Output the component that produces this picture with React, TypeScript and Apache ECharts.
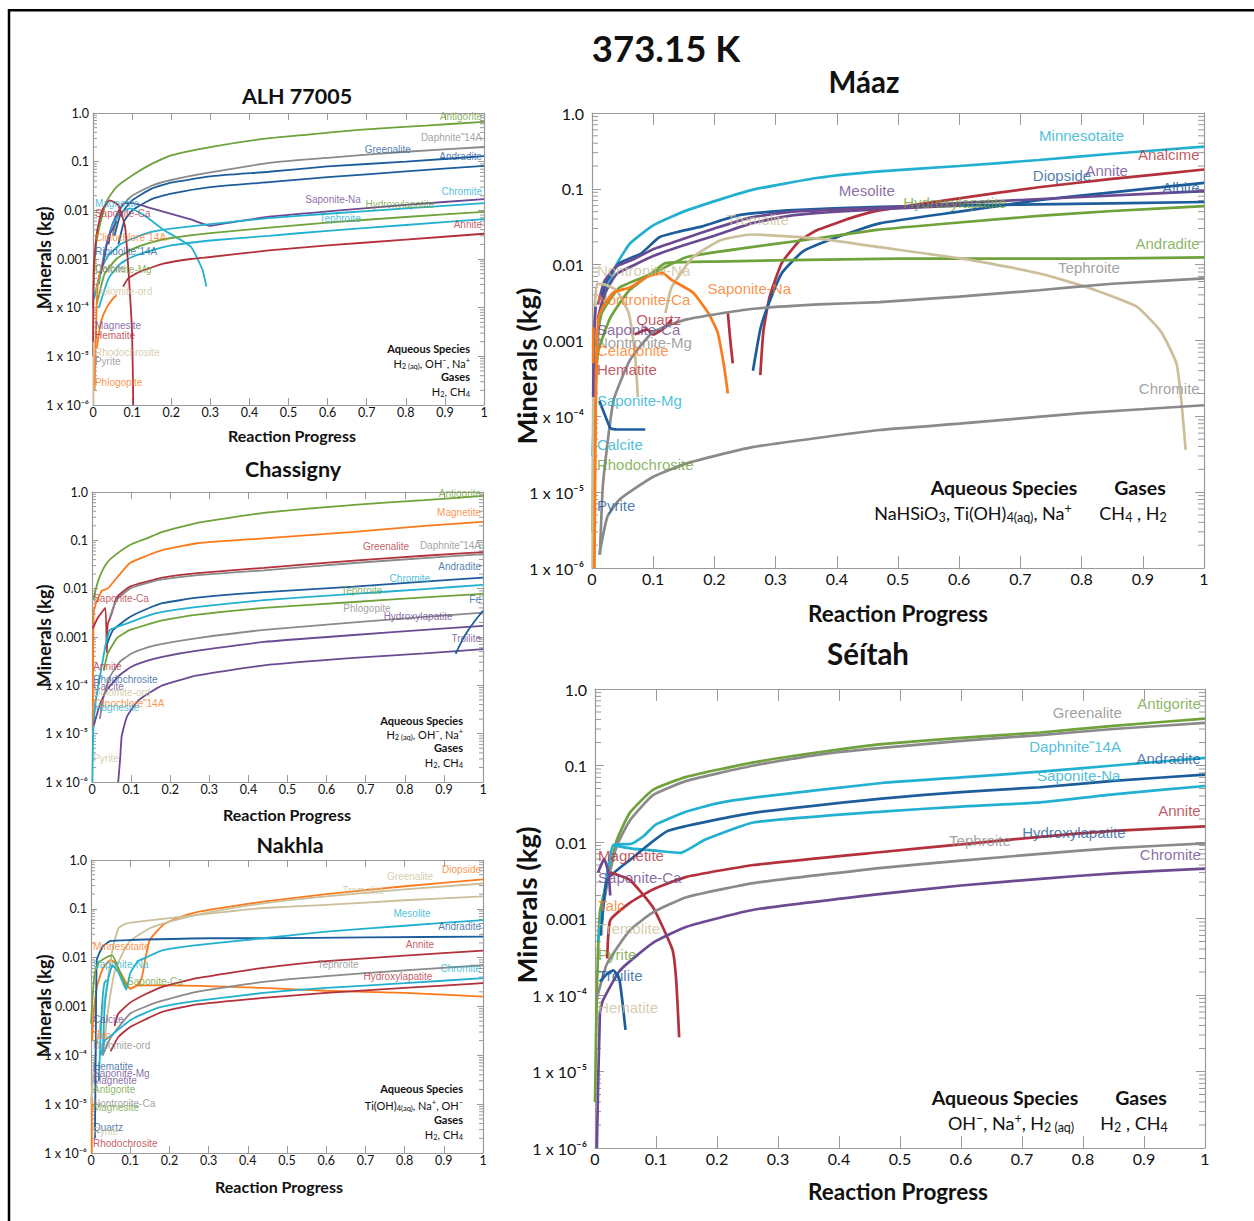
import React, { useEffect, useRef } from "react";
import * as echarts from "echarts";

type Pt = [number, number];
type Curve = [string, Pt[]];
type Lbl = [string, number, number];

// ---------- tick labels ----------
const yTickLabels = ["1 x 10⁻⁶", "1 x 10⁻⁵", "1 x 10⁻⁴", "0.001", "0.01", "0.1", "1.0"];
const xTickLabels = ["0", "0.1", "0.2", "0.3", "0.4", "0.5", "0.6", "0.7", "0.8", "0.9", "1"];

// ---------- ALH 77005 ----------
const alhCurves: Curve[] = [
  ["Antigorite", [[0, 1e-4], [0.003, 6e-4], [0.008, 0.002], [0.02, 0.006], [0.036, 0.016], [0.06, 0.03], [0.1, 0.052], [0.15, 0.09], [0.2, 0.135], [0.3, 0.2], [0.43, 0.29], [0.55, 0.36], [0.68, 0.45], [0.85, 0.55], [1, 0.66]]],
  ["Daphnite", [[0.05, 0.003], [0.065, 0.009], [0.08, 0.014], [0.1, 0.02], [0.15, 0.032], [0.2, 0.042], [0.3, 0.06], [0.45, 0.094], [0.6, 0.12], [0.8, 0.16], [1, 0.2]]],
  ["Greenalite", [[0.055, 0.003], [0.07, 0.008], [0.1, 0.016], [0.15, 0.028], [0.2, 0.037], [0.3, 0.05], [0.45, 0.062], [0.6, 0.08], [0.8, 0.1], [1, 0.13]]],
  ["Andradite", [[0.065, 0.002], [0.08, 0.006], [0.1, 0.01], [0.15, 0.017], [0.2, 0.022], [0.3, 0.03], [0.45, 0.038], [0.6, 0.048], [0.8, 0.063], [1, 0.082]]],
  ["Saponite-Na", [[0.04, 0.002], [0.045, 0.004], [0.06, 0.008], [0.08, 0.014], [0.1, 0.014], [0.15, 0.011], [0.2, 0.0085], [0.25, 0.0065], [0.3, 0.0048], [0.35, 0.0056], [0.45, 0.0074], [0.6, 0.0095], [0.8, 0.013], [1, 0.017]]],
  ["Magnetite", [[0.015, 3e-4], [0.03, 0.0015], [0.05, 0.005], [0.07, 0.009], [0.095, 0.011], [0.13, 0.008], [0.18, 0.004], [0.25, 0.0018], [0.28, 6e-4], [0.29, 2.7e-4]]],
  ["Chromite", [[0.003, 1.5e-4], [0.02, 6e-4], [0.04, 0.0012], [0.07, 0.002], [0.11, 0.0028], [0.15, 0.0036], [0.2, 0.0042], [0.3, 0.0052], [0.45, 0.0069], [0.6, 0.0085], [0.8, 0.011], [1, 0.014]]],
  ["Hydroxylapatite", [[0.01, 1.2e-4], [0.03, 5e-4], [0.06, 0.001], [0.1, 0.0016], [0.15, 0.0022], [0.2, 0.0027], [0.3, 0.0034], [0.45, 0.0044], [0.6, 0.0056], [0.8, 0.0073], [1, 0.0093]]],
  ["Tephroite", [[0.015, 1e-4], [0.04, 4e-4], [0.07, 8e-4], [0.1, 0.0011], [0.15, 0.0015], [0.2, 0.0019], [0.3, 0.0024], [0.45, 0.003], [0.6, 0.0038], [0.8, 0.005], [1, 0.0066]]],
  ["Annite", [[0.077, 2.7e-4], [0.09, 4e-4], [0.12, 5.5e-4], [0.18, 8e-4], [0.25, 0.001], [0.3, 0.0011], [0.45, 0.0015], [0.6, 0.0019], [0.8, 0.0025], [1, 0.0033]]],
  ["Saponite-Ca", [[0, 1e-5], [0.002, 7e-4], [0.01, 0.0035], [0.023, 0.01], [0.043, 0.016], [0.064, 0.013], [0.082, 0.0046], [0.09, 7e-4], [0.1, 3e-5], [0.103, 1e-6]]],
  ["Clinochlore", [[0.004, 2e-6], [0.008, 5e-5], [0.012, 3e-4], [0.02, 6e-4], [0.03, 0.001]]],
  ["Phlogopite", [[0.01, 1.5e-5], [0.02, 5e-5], [0.035, 1e-4], [0.05, 1.5e-4], [0.06, 1.8e-4]]],
  ["Rhodochrosite", [[0.001, 1e-6], [0.0012, 2e-5]]],
  ["Magnesite", [[0.02, 5e-4], [0.03, 0.0012], [0.04, 0.003], [0.05, 0.004], [0.06, 0.006]]],
];
const alhCurveColors = ["green", "grey", "blue", "blue", "purple", "cyan", "cyan", "green", "cyan", "red", "red", "orange", "orange", "tan", "purple"];
const alhLabels: Lbl[] = [
  ["Antigorite", 0.995, 0.83], ["Daphnite˜14A", 0.995, 0.32], ["Greenalite", 0.754, 0.174], ["Andradite", 0.995, 0.125],
  ["Chromite", 0.995, 0.024], ["Saponite-Na", 0.614, 0.017], ["Hydroxylapatite", 0.785, 0.0129], ["Tephroite", 0.632, 0.0069],
  ["Annite", 0.995, 0.005], ["Magnetite", 0.005, 0.0135], ["Saponite-Ca", 0.005, 0.0085], ["Clinochlore˜14A", 0.005, 0.0028],
  ["Ripidolite˜14A", 0.005, 0.0014], ["Dolomite-Mg", 0.005, 6e-4], ["Calcite", 0.005, 6.4e-4], ["Dolomite-ord", 0.005, 2.2e-4],
  ["Magnesite", 0.005, 4.4e-5], ["Hematite", 0.005, 2.7e-5], ["Rhodochrosite", 0.005, 1.2e-5], ["Pyrite", 0.005, 7.8e-6],
  ["Phlogopite", 0.005, 2.9e-6],
];
const alhLabelColors = ["green", "grey", "blue", "blue", "cyan", "purple", "green", "cyan", "red", "cyan", "red", "orange", "blue", "green", "grey", "tan", "purple", "red", "tan", "grey", "orange"];

// ---------- Chassigny ----------
const chaCurves: Curve[] = [
  ["Antigorite", [[0.004, 0.006], [0.01, 0.01], [0.02, 0.018], [0.038, 0.034], [0.06, 0.05], [0.097, 0.08], [0.14, 0.11], [0.18, 0.15], [0.27, 0.23], [0.44, 0.37], [0.67, 0.54], [0.85, 0.68], [1, 0.83]]],
  ["Magnetite", [[0.002, 1.2e-5], [0.004, 0.003], [0.01, 0.005], [0.025, 0.009], [0.04, 0.01], [0.064, 0.017], [0.097, 0.034], [0.14, 0.048], [0.18, 0.063], [0.27, 0.087], [0.44, 0.11], [0.67, 0.15], [0.85, 0.2], [1, 0.24]]],
  ["Greenalite", [[0.002, 0.0015], [0.015, 0.0025], [0.034, 0.004], [0.038, 4.7e-4], [0.04, 0.0018], [0.05, 0.003], [0.064, 0.0067], [0.097, 0.011], [0.14, 0.014], [0.18, 0.017], [0.27, 0.021], [0.44, 0.027], [0.67, 0.038], [0.85, 0.048], [1, 0.057]]],
  ["Daphnite", [[0.045, 0.0025], [0.064, 0.006], [0.097, 0.01], [0.14, 0.013], [0.18, 0.0155], [0.27, 0.019], [0.44, 0.024], [0.67, 0.034], [0.85, 0.043], [1, 0.052]]],
  ["Andradite", [[0.038, 7e-4], [0.054, 0.0014], [0.097, 0.0026], [0.14, 0.0038], [0.18, 0.005], [0.27, 0.0065], [0.44, 0.0085], [0.67, 0.011], [0.85, 0.014], [1, 0.017]]],
  ["Chromite", [[0.001, 1e-6], [0.003, 1e-5], [0.01, 5e-5], [0.025, 2.5e-4], [0.035, 7e-4], [0.046, 0.0014], [0.097, 0.002], [0.14, 0.0027], [0.18, 0.0033], [0.27, 0.0042], [0.44, 0.0058], [0.67, 0.0078], [0.85, 0.0098], [1, 0.012]]],
  ["Tephroite", [[0.03, 2e-4], [0.04, 4.5e-4], [0.064, 9.5e-4], [0.097, 0.0014], [0.14, 0.0018], [0.18, 0.0022], [0.27, 0.0029], [0.44, 0.004], [0.67, 0.0053], [0.85, 0.0066], [1, 0.0078]]],
  ["Phlogopite", [[0.02, 2e-5], [0.03, 6e-5], [0.046, 1.5e-4], [0.07, 3e-4], [0.1, 4.5e-4], [0.14, 6e-4], [0.18, 7.2e-4], [0.27, 9.5e-4], [0.44, 0.0014], [0.67, 0.002], [0.85, 0.0026], [1, 0.0032]]],
  ["Hydroxylapatite", [[0.005, 1.5e-5], [0.02, 4e-5], [0.038, 8e-5], [0.07, 1.6e-4], [0.1, 2.4e-4], [0.14, 3.2e-4], [0.18, 3.9e-4], [0.27, 5.2e-4], [0.44, 7.9e-4], [0.67, 0.0011], [0.85, 0.0014], [1, 0.0017]]],
  ["Troilite", [[0.067, 1e-6], [0.072, 3e-6], [0.076, 9e-6], [0.09, 2.3e-5], [0.12, 5e-5], [0.18, 1e-4], [0.27, 1.6e-4], [0.44, 2.6e-4], [0.67, 3.7e-4], [0.85, 4.6e-4], [1, 5.6e-4]]],
  ["Fe", [[0.93, 4.5e-4], [0.945, 8e-4], [0.96, 0.0013], [0.98, 0.0022], [1, 0.0035]]],
];
const chaCurveColors = ["green", "orange", "red", "grey", "blue", "cyan", "green", "grey", "purple", "purple", "blue"];
const chaLabels: Lbl[] = [
  ["Antigorite", 0.995, 0.91], ["Magnetite", 0.995, 0.37], ["Greenalite", 0.752, 0.076], ["Daphnite˜14A", 0.995, 0.08],
  ["Andradite", 0.995, 0.029], ["Chromite", 0.813, 0.0166], ["Tephroite", 0.69, 0.0093], ["Fe", 0.995, 0.006],
  ["Phlogopite", 0.703, 0.0038], ["Hydroxylapatite", 0.834, 0.0027], ["Troilite", 0.995, 9.1e-4],
  ["Saponite-Ca", 0.003, 0.0064], ["Annite", 0.003, 2.4e-4], ["Rhodochrosite", 0.003, 1.35e-4], ["Calcite", 0.003, 9.6e-5],
  ["Dolomite-ord", 0.003, 7.2e-5], ["Clinochlore˜14A", 0.003, 4.3e-5], ["Magnesite", 0.003, 3.5e-5], ["Pyrite", 0.003, 3.1e-6],
];
const chaLabelColors = ["green", "orange", "red", "grey", "blue", "cyan", "green", "blue", "grey", "purple", "purple", "red", "red", "blue", "purple", "tan", "orange", "cyan", "tan"];

// ---------- Nakhla ----------
const nakCurves: Curve[] = [
  ["Diopside", [[0.1, 0.0023], [0.12, 0.0028], [0.13, 0.004], [0.138, 0.009], [0.15, 0.023], [0.184, 0.047], [0.22, 0.065], [0.27, 0.086], [0.35, 0.11], [0.44, 0.14], [0.6, 0.2], [0.8, 0.29], [1, 0.4]]],
  ["Minnesotaite", [[0.003, 2e-4], [0.006, 6e-4], [0.015, 0.0025], [0.03, 0.006], [0.05, 0.009], [0.06, 0.008], [0.075, 0.005], [0.09, 0.003], [0.1, 0.0023], [0.12, 0.0027], [0.2, 0.0027], [0.44, 0.0024], [0.6, 0.0021], [0.8, 0.0019], [1, 0.0016]]],
  ["Talc", [[0.002, 1e-6], [0.002, 1.5e-5]]],
  ["Greenalite", [[0.03, 1e-4], [0.045, 0.001], [0.06, 0.005], [0.08, 0.012], [0.1, 0.022], [0.15, 0.04], [0.2, 0.055], [0.3, 0.085], [0.44, 0.13], [0.6, 0.18], [0.8, 0.25], [1, 0.33]]],
  ["Tremolite", [[0, 1e-5], [0.01, 1e-4], [0.02, 3e-4], [0.04, 0.0025], [0.055, 0.015], [0.07, 0.04], [0.09, 0.05], [0.15, 0.058], [0.25, 0.072], [0.35, 0.088], [0.44, 0.104], [0.6, 0.12], [0.8, 0.15], [1, 0.18]]],
  ["Andradite", [[0.01, 2e-6], [0.012, 1e-4], [0.015, 0.009], [0.03, 0.017], [0.05, 0.022], [0.1, 0.023], [0.3, 0.025], [0.44, 0.025], [0.7, 0.026], [1, 0.027]]],
  ["Mesolite", [[0.03, 1e-4], [0.035, 0.001], [0.045, 0.004], [0.055, 0.007], [0.07, 0.005], [0.09, 0.0022], [0.1, 0.0048], [0.12, 0.0085], [0.14, 0.01], [0.18, 0.014], [0.27, 0.018], [0.44, 0.025], [0.6, 0.034], [0.8, 0.045], [1, 0.059]]],
  ["Annite", [[0.06, 4e-4], [0.069, 7e-4], [0.1, 0.0012], [0.14, 0.0018], [0.18, 0.0025], [0.27, 0.0038], [0.44, 0.0062], [0.6, 0.0085], [0.8, 0.011], [1, 0.014]]],
  ["Tephroite", [[0.03, 1e-4], [0.05, 2.3e-4], [0.1, 7.2e-4], [0.14, 0.001], [0.18, 0.0013], [0.27, 0.002], [0.44, 0.0032], [0.6, 0.0042], [0.8, 0.0055], [1, 0.007]]],
  ["Chromite", [[0.025, 1e-4], [0.035, 2e-4], [0.05, 2.5e-4], [0.1, 5.2e-4], [0.14, 7.5e-4], [0.18, 9.8e-4], [0.27, 0.0013], [0.44, 0.0019], [0.6, 0.0024], [0.8, 0.003], [1, 0.0038]]],
  ["Saponite-Na", [[0.02, 3e-5], [0.024, 2e-4], [0.028, 0.001], [0.034, 0.003], [0.04, 0.0035]]],
  ["Hydroxylapatite", [[0.05, 1.2e-4], [0.07, 2.4e-4], [0.1, 3.8e-4], [0.14, 5.5e-4], [0.18, 7.7e-4], [0.27, 0.0011], [0.44, 0.0015], [0.6, 0.0019], [0.8, 0.0024], [1, 0.003]]],
  ["Saponite-Ca", [[0, 4.5e-4], [0.005, 0.002], [0.01, 0.005], [0.02, 0.008], [0.05, 0.011], [0.055, 0.011], [0.07, 0.006], [0.085, 0.0032], [0.09, 0.0025]]],
];
const nakCurveColors = ["orange", "orange", "orange", "tan", "tan", "blue", "cyan", "red", "grey", "cyan", "cyan", "red", "green"];
const nakLabels: Lbl[] = [
  ["Diopside", 0.995, 0.65], ["Greenalite", 0.814, 0.47], ["Tremolite", 0.694, 0.24], ["Mesolite", 0.819, 0.082],
  ["Andradite", 0.995, 0.044], ["Annite", 0.839, 0.019], ["Tephroite", 0.63, 0.0074], ["Chromite", 0.995, 0.0059],
  ["Hydroxylapatite", 0.783, 0.0042], ["Minnesotaite", 0.005, 0.0173], ["Saponite-Na", 0.005, 0.0071], ["Saponite-Ca", 0.163, 0.0033],
  ["Calcite", 0.005, 5.5e-4], ["Talc", 0.005, 2.5e-4], ["Dolomite-ord", 0.005, 1.6e-4], ["Hematite", 0.005, 6e-5],
  ["Saponite-Mg", 0.005, 4.3e-5], ["Magnetite", 0.005, 3e-5], ["Antigorite", 0.005, 2e-5], ["Nontronite-Ca", 0.005, 1.05e-5],
  ["Magnesite", 0.005, 8.5e-6], ["Quartz", 0.005, 3.4e-6], ["Pyrite", 0.005, 2.8e-6], ["Rhodochrosite", 0.005, 1.6e-6],
];
const nakLabelColors = ["orange", "tan", "tan", "cyan", "blue", "red", "grey", "cyan", "red", "orange", "cyan", "green", "purple", "orange", "grey", "blue", "purple", "purple", "green", "grey", "green", "blue", "tan", "red"];

// ---------- Máaz ----------
const maazCurves: Curve[] = [
  ["Minnesotaite", [[0.001, 3e-5], [0.005, 3e-4], [0.01, 0.0012], [0.016, 0.0028], [0.025, 0.005], [0.04, 0.01], [0.062, 0.019], [0.1, 0.033], [0.155, 0.052], [0.26, 0.096], [0.37, 0.14], [0.47, 0.17], [0.6, 0.2], [0.73, 0.24], [0.85, 0.29], [1, 0.36]]],
  ["Analcime", [[0.275, 3.5e-4], [0.28, 0.0013], [0.29, 0.0037], [0.31, 0.0105], [0.34, 0.021], [0.37, 0.029], [0.43, 0.043], [0.47, 0.052], [0.6, 0.075], [0.73, 0.105], [0.85, 0.135], [1, 0.18]]],
  ["Diopside", [[0.263, 4e-4], [0.275, 0.0014], [0.287, 0.0028], [0.31, 0.0077], [0.345, 0.015], [0.4, 0.023], [0.47, 0.035], [0.6, 0.05], [0.73, 0.071], [0.85, 0.09], [1, 0.12]]],
  ["Albite", [[0.016, 0.0037], [0.025, 0.0063], [0.045, 0.0105], [0.08, 0.014], [0.11, 0.023], [0.14, 0.027], [0.18, 0.032], [0.24, 0.045], [0.32, 0.052], [0.47, 0.058], [0.7, 0.062], [1, 0.067]]],
  ["Mesolite", [[0.01, 0.003], [0.02, 0.006], [0.04, 0.0095], [0.07, 0.012], [0.1, 0.016], [0.15, 0.022], [0.2, 0.03], [0.26, 0.042], [0.33, 0.05], [0.47, 0.056], [0.6, 0.065], [0.8, 0.078], [1, 0.093]]],
  ["Annite", [[0.01, 0.002], [0.02, 0.004], [0.04, 0.0075], [0.07, 0.01], [0.1, 0.013], [0.15, 0.018], [0.2, 0.024], [0.26, 0.035], [0.33, 0.045], [0.47, 0.054], [0.6, 0.06]]],
  ["Hydroxylapatite", [[0.005, 8e-4], [0.016, 0.0023], [0.045, 0.005], [0.1, 0.0077], [0.155, 0.0126], [0.26, 0.017], [0.345, 0.021], [0.47, 0.029], [0.6, 0.036], [0.73, 0.044], [0.85, 0.051], [1, 0.059]]],
  ["Andradite", [[0.001, 3e-6], [0.003, 1e-4], [0.01, 7e-4], [0.03, 0.002], [0.06, 0.0045], [0.1, 0.008], [0.12, 0.0105], [0.2, 0.011], [0.5, 0.012], [0.8, 0.012], [1, 0.0125]]],
  ["Nontronite-Na", [[0.001, 1e-6], [0.002, 1e-4], [0.004, 0.002], [0.008, 0.0056], [0.02, 0.0055], [0.04, 0.0046], [0.06, 0.0023], [0.07, 7e-4], [0.075, 1.8e-4]]],
  ["Tremolite", [[0.12, 0.0023], [0.13, 0.005], [0.165, 0.0126], [0.21, 0.021], [0.26, 0.025], [0.37, 0.022], [0.47, 0.017], [0.62, 0.0115], [0.73, 0.0077], [0.81, 0.005], [0.89, 0.0028], [0.93, 0.0013], [0.955, 5e-4], [0.963, 1.6e-4], [0.97, 3.6e-5]]],
  ["Saponite-Na", [[0.004, 1e-6], [0.006, 1e-4], [0.01, 0.0019], [0.018, 0.0028], [0.035, 0.0043], [0.062, 0.005], [0.09, 0.0069], [0.115, 0.0078], [0.13, 0.0063], [0.165, 0.0043], [0.19, 0.0023], [0.205, 0.0013], [0.215, 5e-4], [0.222, 2e-4]]],
  ["Quartz", [[0.07, 0.0012], [0.09, 0.0014], [0.1, 0.0012], [0.12, 0.0015], [0.13, 0.0019]]],
  ["Quartz-2", [[0.222, 0.0023], [0.226, 0.001], [0.23, 5e-4]]],
  ["Tephroite", [[0.013, 1.5e-6], [0.018, 1.3e-5], [0.035, 1.6e-4], [0.062, 5.5e-4], [0.1, 0.0013], [0.155, 0.0019], [0.26, 0.0026], [0.37, 0.003], [0.47, 0.0032], [0.6, 0.0038], [0.73, 0.0046], [0.85, 0.0056], [1, 0.0066]]],
  ["Chromite", [[0.012, 1.5e-6], [0.025, 4.7e-6], [0.045, 8e-6], [0.1, 1.6e-5], [0.155, 2.4e-5], [0.26, 3.9e-5], [0.47, 6.6e-5], [0.6, 8e-5], [0.8, 1.1e-4], [1, 1.4e-4]]],
  ["Pyrite", [[0.012, 1.6e-4], [0.02, 1.1e-4], [0.03, 7e-5], [0.04, 6.7e-5], [0.087, 6.7e-5]]],
  ["Saponite-Ca", [[0.002, 1.8e-4], [0.003, 0.001], [0.006, 0.0028]]],
  ["Celadonite", [[0.002, 5e-4], [0.0022, 0.0015]]],
];
const maazCurveColors = ["cyan", "red", "blue", "blue", "purple", "purple", "green", "green", "tan", "tan", "orange", "red", "red", "grey", "grey", "blue", "purple", "orange"];
const maazLabels: Lbl[] = [
  ["Minnesotaite", 0.8, 0.51], ["Analcime", 0.993, 0.28], ["Diopside", 0.768, 0.148], ["Annite", 0.841, 0.172],
  ["Albite", 0.993, 0.105], ["Mesolite", 0.449, 0.096], ["Hydroxylapatite", 0.593, 0.067], ["Tremolite", 0.271, 0.039],
  ["Andradite", 0.993, 0.019], ["Tephroite", 0.812, 0.0091], ["Chromite", 0.993, 2.3e-4], ["Saponite-Na", 0.257, 0.0048],
  ["Nontronite-Na", 0.008, 0.0085], ["Nontronite-Ca", 0.008, 0.0035], ["Quartz", 0.109, 0.0019], ["Saponite-Ca", 0.008, 0.0014],
  ["Nontronite-Mg", 0.008, 9.3e-4], ["Celadonite", 0.008, 7.3e-4], ["Hematite", 0.008, 4.1e-4], ["Saponite-Mg", 0.008, 1.6e-4],
  ["Calcite", 0.008, 4.2e-5], ["Rhodochrosite", 0.008, 2.3e-5], ["Pyrite", 0.008, 6.6e-6],
];
const maazLabelColors = ["cyan", "red", "blue", "purple", "blue", "purple", "green", "tan", "green", "grey", "grey", "orange", "tan", "orange", "red", "purple", "grey", "orange", "red", "cyan", "cyan", "green", "blue"];

// ---------- Séítah ----------
const seitCurves: Curve[] = [
  ["Antigorite", [[0, 4e-6], [0.003, 1e-4], [0.008, 0.0012], [0.02, 0.0032], [0.036, 0.0107], [0.057, 0.024], [0.095, 0.048], [0.15, 0.071], [0.26, 0.11], [0.37, 0.15], [0.47, 0.19], [0.6, 0.23], [0.73, 0.27], [0.85, 0.33], [1, 0.41]]],
  ["Greenalite", [[0.01, 0.001], [0.02, 0.0028], [0.036, 0.009], [0.057, 0.019], [0.095, 0.041], [0.15, 0.063], [0.26, 0.1], [0.37, 0.14], [0.47, 0.17], [0.6, 0.21], [0.73, 0.25], [0.85, 0.3], [1, 0.36]]],
  ["Daphnite", [[0.005, 5e-4], [0.01, 0.001], [0.02, 0.004], [0.03, 0.0091], [0.06, 0.0095], [0.08, 0.012], [0.1, 0.017], [0.15, 0.025], [0.2, 0.032], [0.26, 0.038], [0.47, 0.059], [0.6, 0.07], [0.73, 0.083], [0.85, 0.1], [1, 0.126]]],
  ["Saponite-Na", [[0.03, 0.0091], [0.06, 0.0082], [0.1, 0.0077], [0.14, 0.0072], [0.18, 0.0107], [0.26, 0.018], [0.47, 0.025], [0.6, 0.029], [0.73, 0.033], [0.85, 0.042], [1, 0.054]]],
  ["Andradite", [[0.01, 6e-4], [0.02, 0.0032], [0.057, 0.0058], [0.12, 0.014], [0.26, 0.024], [0.47, 0.037], [0.6, 0.045], [0.73, 0.052], [0.85, 0.063], [1, 0.076]]],
  ["Annite", [[0.02, 3e-4], [0.025, 9.5e-4], [0.057, 0.0016], [0.095, 0.0024], [0.15, 0.0035], [0.26, 0.005], [0.47, 0.0074], [0.6, 0.0093], [0.73, 0.0117], [0.85, 0.014], [1, 0.016]]],
  ["Magnetite", [[0.025, 0.004], [0.057, 0.0032], [0.095, 0.0014], [0.127, 3.9e-4], [0.133, 1.6e-4], [0.138, 2.8e-5]]],
  ["Tephroite", [[0.003, 9e-5], [0.02, 2.6e-4], [0.057, 7e-4], [0.095, 0.0012], [0.15, 0.0019], [0.26, 0.0029], [0.47, 0.0046], [0.6, 0.0057], [0.73, 0.007], [0.85, 0.0083], [1, 0.0096]]],
  ["Chromite", [[0.003, 1e-6], [0.008, 5.7e-5], [0.013, 8.5e-5], [0.041, 2.1e-4], [0.095, 4.8e-4], [0.15, 7.8e-4], [0.26, 0.0013], [0.47, 0.0021], [0.6, 0.0027], [0.73, 0.0033], [0.85, 0.0039], [1, 0.0045]]],
  ["Saponite-Ca", [[0.005, 0.004], [0.015, 0.006], [0.022, 0.004], [0.025, 0.002]]],
  ["Troilite", [[0.008, 1.5e-4], [0.02, 1.9e-4], [0.03, 2.1e-4], [0.04, 1.6e-4], [0.05, 3.5e-5]]],
];
const seitCurveColors = ["green", "grey", "cyan", "cyan", "blue", "red", "red", "grey", "purple", "purple", "blue"];
const seitLabels: Lbl[] = [
  ["Antigorite", 0.993, 0.64], ["Greenalite", 0.807, 0.5], ["Daphnite˜14A", 0.787, 0.175], ["Andradite", 0.993, 0.122],
  ["Saponite-Na", 0.793, 0.075], ["Annite", 0.993, 0.026], ["Hydroxylapatite", 0.785, 0.0135], ["Tephroite", 0.631, 0.0106],
  ["Chromite", 0.993, 0.0069], ["Magnetite", 0.005, 0.0066], ["Saponite-Ca", 0.005, 0.0034], ["Talc", 0.005, 0.0015],
  ["Tremolite", 0.005, 7.3e-4], ["Pyrite", 0.005, 3.4e-4], ["Troilite", 0.005, 1.8e-4], ["Hematite", 0.005, 6.8e-5],
];
const seitLabelColors = ["green", "grey", "cyan", "blue", "cyan", "red", "blue", "grey", "purple", "red", "purple", "orange", "tan", "green", "blue", "tan"];

// ---------- styling ----------
const COL: Record<string, string> = {
  green: "#6fa23b", grey: "#8a8a8a", blue: "#1e5d9b", cyan: "#22b0d0",
  purple: "#6b4a92", red: "#b3303c", orange: "#fa7a1c", tan: "#cbbf99",
};
const AXIS = "#9a9a9a";
const TXT = "#111";

const PANELS = [
  { curves: alhCurves, colors: alhCurveColors, labels: alhLabels, labelColors: alhLabelColors, box: [93, 113, 391, 292], big: false },
  { curves: chaCurves, colors: chaCurveColors, labels: chaLabels, labelColors: chaLabelColors, box: [92, 492, 391, 290], big: false },
  { curves: nakCurves, colors: nakCurveColors, labels: nakLabels, labelColors: nakLabelColors, box: [91, 860, 392, 293], big: false },
  { curves: maazCurves, colors: maazCurveColors, labels: maazLabels, labelColors: maazLabelColors, box: [592, 113, 612, 455], big: true },
  { curves: seitCurves, colors: seitCurveColors, labels: seitLabels, labelColors: seitLabelColors, box: [595, 689, 610, 459], big: true },
];

const fmtX = (v: number) => xTickLabels[Math.round(v * 10)] ?? "";
const fmtY = (v: number) => yTickLabels[Math.round(Math.log10(v)) + 6] ?? "";

function buildOption() {
  const grid: any[] = [];
  const xAxis: any[] = [];
  const yAxis: any[] = [];
  const series: any[] = [];
  const minorVals: number[] = [];
  for (let e = -6; e < 0; e++) for (let m = 2; m <= 9; m++) minorVals.push(m * Math.pow(10, e));

  PANELS.forEach((p, i) => {
    const [l, t, w, h] = p.box;
    const big = p.big;
    grid.push({ left: l, top: t, width: w, height: h });
    const line = { show: true, onZero: false, lineStyle: { color: AXIS, width: 1.2 } };
    const fs = big ? 16 : 12.5;
    xAxis.push({
      gridIndex: i, type: "value", min: 0, max: 1, interval: 0.1, position: "bottom",
      axisLine: line, axisTick: { show: true, inside: true, length: big ? 12 : 7, lineStyle: { color: AXIS } },
      axisLabel: { show: true, margin: big ? 2 : 1, fontFamily: "Lato", fontSize: fs, color: TXT, formatter: fmtX },
      splitLine: { show: false },
    });
    xAxis.push({
      gridIndex: i, type: "value", min: 0, max: 1, interval: 0.1, position: "top",
      axisLine: line, axisTick: { show: true, inside: true, length: big ? 12 : 7, lineStyle: { color: AXIS } },
      axisLabel: { show: false }, splitLine: { show: false },
    });
    yAxis.push({
      gridIndex: i, type: "log", logBase: 10, min: 1e-6, max: 1, splitNumber: 6, position: "left",
      axisLine: line, axisTick: { show: true, inside: true, length: big ? 9 : 6, lineStyle: { color: AXIS } },
      axisLabel: { show: true, margin: big ? 8 : 4, fontFamily: "Lato", fontSize: fs, color: TXT, formatter: fmtY },
      splitLine: { show: false },
    });
    yAxis.push({
      gridIndex: i, type: "log", logBase: 10, min: 1e-6, max: 1, splitNumber: 6, position: "right",
      axisLine: line, axisTick: { show: true, inside: true, length: big ? 9 : 6, lineStyle: { color: AXIS } },
      axisLabel: { show: false }, splitLine: { show: false },
    });

    p.curves.forEach(([name, pts], k) => {
      series.push({
        type: "line", name, xAxisIndex: 2 * i, yAxisIndex: 2 * i, data: pts,
        symbol: "none", smooth: 0.15, silent: true, z: 3,
        lineStyle: { color: COL[p.colors[k]], width: big ? 2.7 : 1.8 },
      });
    });

    series.push({
      type: "scatter", xAxisIndex: 2 * i, yAxisIndex: 2 * i, symbolSize: 1, silent: true, z: 5,
      itemStyle: { color: "transparent" },
      data: p.labels.map(([text, x, y], k) => ({
        name: text, value: [x, y],
        label: { color: COL[p.labelColors[k]], align: x > 0.98 ? "right" : x < 0.03 ? "left" : "center" },
      })),
      label: { show: true, position: "inside", formatter: "{b}", fontFamily: "Liberation Sans", fontSize: big ? 15 : 10, verticalAlign: "middle" },
      labelLayout: { hideOverlap: false },
    });

    series.push({
      type: "custom", xAxisIndex: 2 * i, yAxisIndex: 2 * i, silent: true, clip: false, z: 2,
      data: minorVals.map((v) => [0, v]),
      renderItem: (_params: any, api: any) => {
        const v = api.value(1);
        const a = api.coord([0, v]);
        const b = api.coord([1, v]);
        const len = big ? 6 : 4;
        return {
          type: "group",
          children: [
            { type: "line", shape: { x1: a[0], y1: a[1], x2: a[0] + len, y2: a[1] }, style: { stroke: AXIS, lineWidth: 1 } },
            { type: "line", shape: { x1: b[0] - len, y1: b[1], x2: b[0], y2: b[1] }, style: { stroke: AXIS, lineWidth: 1 } },
          ],
        };
      },
    });
  });

  const T = (text: string, x: number, y: number, size: number, extra: any = {}) => ({
    type: "text", x, y, ...(extra.rotation ? { rotation: extra.rotation } : {}),
    style: {
      text, fontSize: size, fontFamily: "Lato", fontWeight: extra.weight ?? "bold", fill: TXT,
      align: extra.align ?? "center", verticalAlign: "middle",
      ...(extra.rich ? { rich: extra.rich, lineHeight: extra.lineHeight } : {}),
    },
  });
  const richSmall = {
    sub: { fontSize: 7.5, lineHeight: 8, verticalAlign: "bottom", fontFamily: "Lato" },
    sup: { fontSize: 7.5, lineHeight: 8, verticalAlign: "top", fontFamily: "Lato" },
  };
  const richBig = {
    sub: { fontSize: 12.5, lineHeight: 13, verticalAlign: "bottom", fontFamily: "Lato" },
    sup: { fontSize: 12.5, lineHeight: 13, verticalAlign: "top", fontFamily: "Lato" },
  };
  const R = Math.PI / 2;

  const graphic: any[] = [
    { type: "line", shape: { x1: 8, y1: 10.3, x2: 1254, y2: 10.3 }, style: { stroke: "#000", lineWidth: 2.5 } },
    { type: "line", shape: { x1: 9, y1: 9, x2: 9, y2: 1221 }, style: { stroke: "#000", lineWidth: 2.5 } },
    T("373.15 K", 666, 48, 36.5),
    T("ALH 77005", 297, 96, 21.5),
    T("Chassigny", 293, 469, 21.5),
    T("Nakhla", 290, 845, 21.5),
    T("Máaz", 864, 81, 29.5),
    T("Séítah", 868, 653, 29.5),
    T("Minerals (kg)", 44, 258, 18, { rotation: R }),
    T("Minerals (kg)", 44, 636, 18, { rotation: R }),
    T("Minerals (kg)", 44, 1006, 18, { rotation: R }),
    T("Minerals (kg)", 526, 366, 27.5, { rotation: R }),
    T("Minerals (kg)", 526, 905, 27.5, { rotation: R }),
    T("Reaction Progress", 292, 435, 16),
    T("Reaction Progress", 287, 814, 16),
    T("Reaction Progress", 279, 1186, 16),
    T("Reaction Progress", 898, 613, 22.5),
    T("Reaction Progress", 898, 1191, 22.5),
    // ALH species
    T("Aqueous Species", 470, 348, 11, { align: "right" }),
    T("H{sub|2 (aq)}, OH{sup|−}, Na{sup|+}", 470, 363, 11, { align: "right", weight: "normal", rich: richSmall, lineHeight: 14 }),
    T("Gases", 470, 376, 11, { align: "right" }),
    T("H{sub|2}, CH{sub|4}", 470, 391, 11, { align: "right", weight: "normal", rich: richSmall, lineHeight: 14 }),
    // Chassigny species
    T("Aqueous Species", 463, 720, 11, { align: "right" }),
    T("H{sub|2 (aq)}, OH{sup|−}, Na{sup|+}", 463, 734, 11, { align: "right", weight: "normal", rich: richSmall, lineHeight: 14 }),
    T("Gases", 463, 747, 11, { align: "right" }),
    T("H{sub|2}, CH{sub|4}", 463, 762, 11, { align: "right", weight: "normal", rich: richSmall, lineHeight: 14 }),
    // Nakhla species
    T("Aqueous Species", 463, 1088, 11, { align: "right" }),
    T("Ti(OH){sub|4(aq)}, Na{sup|+}, OH{sup|−}", 463, 1105, 11, { align: "right", weight: "normal", rich: richSmall, lineHeight: 14 }),
    T("Gases", 463, 1119, 11, { align: "right" }),
    T("H{sub|2}, CH{sub|4}", 463, 1134, 11, { align: "right", weight: "normal", rich: richSmall, lineHeight: 14 }),
    // Máaz species
    T("Aqueous Species", 1004, 487, 19.5),
    T("Gases", 1140, 487, 19.5),
    T("NaHSiO{sub|3}, Ti(OH){sub|4(aq)}, Na{sup|+}", 973, 513, 18, { weight: "normal", rich: richBig, lineHeight: 22 }),
    T("CH{sub|4} , H{sub|2}", 1133, 513, 18, { weight: "normal", rich: richBig, lineHeight: 22 }),
    // Séítah species
    T("Aqueous Species", 1005, 1097, 19.5),
    T("Gases", 1141, 1097, 19.5),
    T("OH{sup|−}, Na{sup|+}, H{sub|2 (aq)}", 1011, 1123, 18, { weight: "normal", rich: richBig, lineHeight: 22 }),
    T("H{sub|2} , CH{sub|4}", 1134, 1123, 18, { weight: "normal", rich: richBig, lineHeight: 22 }),
  ];

  return { animation: false, backgroundColor: "#fff", grid, xAxis, yAxis, series, graphic };
}

export default function App() {
  const ref = useRef<HTMLDivElement>(null);
  useEffect(() => {
    if (!ref.current) return;
    const chart = echarts.init(ref.current, undefined, { renderer: "svg" });
    chart.setOption(buildOption() as any);
    return () => chart.dispose();
  }, []);
  return <div ref={ref} style={{ position: "absolute", left: 0, top: 0, width: 1254, height: 1221 }} />;
}
